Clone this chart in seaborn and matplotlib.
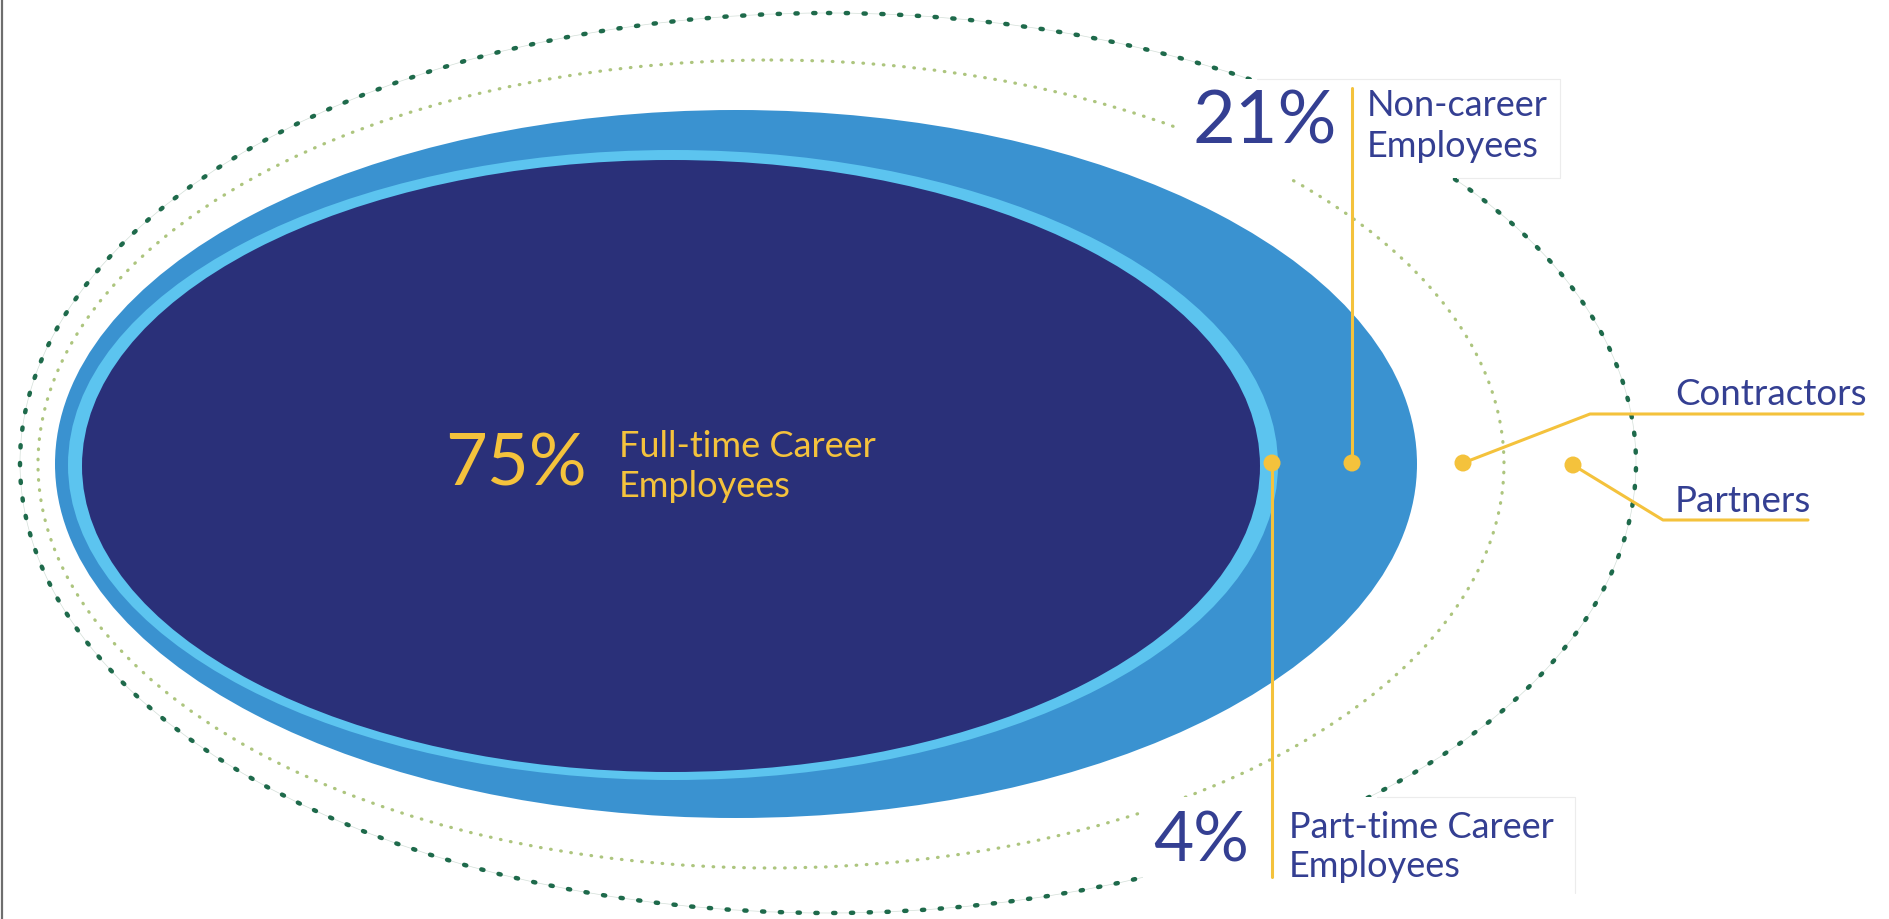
import matplotlib
matplotlib.use("Agg")
import matplotlib.pyplot as plt
from matplotlib.patches import Ellipse, Rectangle
import seaborn as sns
import pandas as pd

# ---------------- data ----------------
segments = ["Full-time Career", "Non-career", "Part-time Career"]
segment_line2 = ["Employees", "Employees", "Employees"]
percentages = [75, 21, 4]
outer_groups = ["Contractors", "Partners"]

# ---------------- layout (pixel space) ----------------
# ellipses: (cx, cy, width, height)
ell_dark_green = (828, 463, 1616, 900)
ell_light_green = (771, 464, 1466, 808)
ell_mid_blue = (736, 464, 1362, 708)
ell_light_blue = (673, 465, 1210, 630)
ell_navy = (671, 466, 1178, 612)

dot_x = [1272, 1352, 1463, 1573]
dot_y = [463, 463, 463, 465]

NAVY = "#2a3079"
MID_BLUE = "#3a92d0"
LIGHT_BLUE = "#5cc4ef"
YELLOW = "#f4c23c"
TEXT_BLUE = "#343f92"
DARK_GREEN = "#1e6a4b"
LIGHT_GREEN = "#adc57e"

sns.set_theme(style="white")
plt.rcParams["font.family"] = ["Lato", "DejaVu Sans"]

fig = plt.figure(figsize=(18.89, 9.19), dpi=100)
ax = fig.add_axes([0, 0, 1, 1])

def ell(spec, **kw):
    cx, cy, w, h = spec
    e = Ellipse((cx, cy), w, h, **kw)
    ax.add_patch(e)
    return e

# dotted outer rings
ell(ell_dark_green, fill=False, edgecolor="#d3dfd8", lw=0.5, zorder=1)
ell(ell_dark_green, fill=False, edgecolor=DARK_GREEN, lw=3.2,
    linestyle=(0, (0.5, 3.5)), capstyle="round", zorder=1)
ell(ell_light_green, fill=False, edgecolor=LIGHT_GREEN, lw=2.3,
    linestyle=(0, (0.2, 3.0)), capstyle="round", zorder=1)

# filled ellipses
ell(ell_mid_blue, facecolor=MID_BLUE, edgecolor="none", zorder=2)
ell(ell_light_blue, facecolor=LIGHT_BLUE, edgecolor="none", zorder=3)
ell(ell_navy, facecolor=NAVY, edgecolor="none", zorder=4)

# white label boxes interrupting the rings (faint top/right/bottom edges only)
BOX_EDGE = "#ececec"
ax.add_patch(Rectangle((1180, 79), 380, 99, facecolor="white",
                       edgecolor="none", zorder=5))
ax.plot([1257, 1560, 1560, 1457], [79, 79, 178, 178], color=BOX_EDGE, lw=0.8, zorder=5)
ax.add_patch(Rectangle((1143, 797), 432, 96, facecolor="white",
                       edgecolor="none", zorder=5))
ax.plot([1377, 1575, 1575], [797, 797, 893], color=BOX_EDGE, lw=0.8, zorder=5)

# left frame line
ax.plot([2, 2], [0, 919], color="#6e6e6e", lw=1.6, zorder=6)

# leader lines
lw_lead = 2.2
ax.plot([1272, 1272], [463, 877], color=YELLOW, lw=lw_lead, zorder=7)
ax.plot([1352, 1352], [88, 463], color=YELLOW, lw=lw_lead, zorder=7)
ax.plot([1463, 1590, 1863], [463, 414, 414], color=YELLOW, lw=lw_lead, zorder=7)
ax.plot([1573, 1663, 1808], [465, 520, 520], color=YELLOW, lw=lw_lead, zorder=7)

dots = pd.DataFrame({"x": dot_x, "y": dot_y})
sns.scatterplot(data=dots, x="x", y="y", ax=ax, s=150, color=YELLOW,
                edgecolor="none", zorder=8, legend=False)
ax.set_xlim(0, 1889)
ax.set_ylim(919, 0)
ax.axis("off")

LBL = 26

# Full-time
ax.text(445, 485, f"{percentages[0]}%", color=YELLOW, fontsize=52,
        va="baseline", ha="left", zorder=9)
ax.text(619, 457, segments[0], color=YELLOW, fontsize=LBL, va="baseline", ha="left", zorder=9)
ax.text(619, 497, segment_line2[0], color=YELLOW, fontsize=LBL, va="baseline", ha="left", zorder=9)

# Non-career
ax.text(1193, 143, f"{percentages[1]}%", color=TEXT_BLUE, fontsize=53,
        va="baseline", ha="left", zorder=9)
ax.text(1367, 116, segments[1], color=TEXT_BLUE, fontsize=LBL, va="baseline", ha="left", zorder=9)
ax.text(1367, 157, segment_line2[1], color=TEXT_BLUE, fontsize=LBL, va="baseline", ha="left", zorder=9)

# Part-time
ax.text(1153, 862, f"{percentages[2]}%", color=TEXT_BLUE, fontsize=50,
        va="baseline", ha="left", zorder=9)
ax.text(1289, 838, segments[2], color=TEXT_BLUE, fontsize=LBL, va="baseline", ha="left", zorder=9)
ax.text(1289, 877, segment_line2[2], color=TEXT_BLUE, fontsize=LBL, va="baseline", ha="left", zorder=9)

# Contractors / Partners
ax.text(1675, 405, outer_groups[0], color=TEXT_BLUE, fontsize=26.5, va="baseline", ha="left", zorder=9)
ax.text(1675, 512, outer_groups[1], color=TEXT_BLUE, fontsize=26.5, va="baseline", ha="left", zorder=9)

fig.savefig("out.png", dpi=100, facecolor="white")
